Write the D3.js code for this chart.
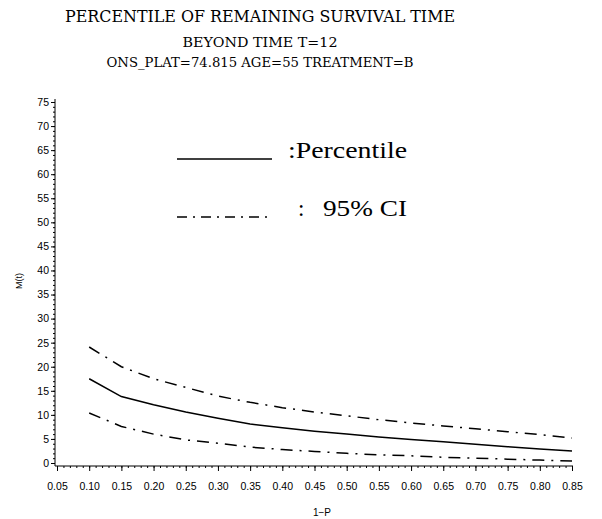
<!DOCTYPE html>
<html>
<head>
<meta charset="utf-8">
<script src="https://cdn.jsdelivr.net/npm/d3@7"></script>
<style>
  body { margin: 0; background: #fff; }
  svg { display: block; }
</style>
</head>
<body>
<script>
// values
var probs = [0.10, 0.15, 0.20, 0.25, 0.30, 0.35, 0.40, 0.45, 0.50, 0.55, 0.60, 0.65, 0.70, 0.75, 0.80, 0.85];
var percentile = [17.5, 13.8, 12.1, 10.6, 9.3, 8.1, 7.3, 6.6, 6.0, 5.4, 4.9, 4.4, 3.9, 3.4, 2.9, 2.5];
var upperCI = [24.1, 20.0, 17.5, 15.7, 13.9, 12.6, 11.5, 10.6, 9.8, 9.0, 8.3, 7.7, 7.1, 6.5, 5.9, 5.2];
var lowerCI = [10.4, 7.6, 6.0, 4.8, 4.1, 3.3, 2.8, 2.4, 2.0, 1.7, 1.5, 1.2, 1.0, 0.8, 0.6, 0.4];
var xTicks = [0.05, 0.10, 0.15, 0.20, 0.25, 0.30, 0.35, 0.40, 0.45, 0.50, 0.55, 0.60, 0.65, 0.70, 0.75, 0.80, 0.85];
var yTicks = [0, 5, 10, 15, 20, 25, 30, 35, 40, 45, 50, 55, 60, 65, 70, 75];
var titleLines = ["PERCENTILE OF REMAINING SURVIVAL TIME", "BEYOND TIME T=12", "ONS_PLAT=74.815 AGE=55 TREATMENT=B"];

var width = 602, height = 519;

var svg = d3.select("body").append("svg")
    .attr("width", width)
    .attr("height", height);

svg.append("rect").attr("width", width).attr("height", height).attr("fill", "#fff");

// set the ranges
var x = d3.scaleLinear().domain([0.05, 0.85]).range([57, 572]);
var y = d3.scaleLinear().domain([0, 75]).range([463, 102]);

var axisY = 466, axisX = 55;

// titles
var titleStyle = [
  {y: 22, size: 16, len: 390},
  {y: 47, size: 12, len: 155},
  {y: 67, size: 12, len: 307}
];
svg.selectAll(".title")
    .data(titleLines)
  .enter().append("text")
    .attr("class", "title")
    .attr("x", 260)
    .attr("y", function(d, i) { return titleStyle[i].y; })
    .attr("text-anchor", "middle")
    .attr("textLength", function(d, i) { return titleStyle[i].len; })
    .attr("lengthAdjust", "spacingAndGlyphs")
    .style("font-family", "'DejaVu Serif', serif")
    .style("font-size", function(d, i) { return titleStyle[i].size + "px"; })
    .text(function(d) { return d; });

// x axis
var xg = svg.append("g")
    .attr("transform", "translate(0," + axisY + ")")
    .call(d3.axisBottom(x).tickValues(xTicks).tickSize(5).tickSizeOuter(0).tickPadding(12)
      .tickFormat(d3.format(".2f")));
xg.select(".domain").remove();
xg.selectAll("text").style("font-family", "'Liberation Sans', Arial, sans-serif").style("font-size", "10.5px");

// minor x ticks
var xMinor = d3.range(5, 86).map(function(d) { return d / 100; });
svg.append("g")
    .attr("transform", "translate(0," + axisY + ")")
    .call(d3.axisBottom(x).tickValues(xMinor).tickSize(2).tickFormat(""))
    .select(".domain").remove();

// y axis
var yg = svg.append("g")
    .attr("transform", "translate(" + axisX + ",0)")
    .call(d3.axisLeft(y).tickValues(yTicks).tickSize(4).tickPadding(2));
yg.select(".domain").remove();
yg.selectAll("text").style("font-family", "'Liberation Sans', Arial, sans-serif").style("font-size", "10.5px");

var yMinor = d3.range(0, 76);
svg.append("g")
    .attr("transform", "translate(" + axisX + ",0)")
    .call(d3.axisLeft(y).tickValues(yMinor).tickSize(2).tickFormat(""))
    .select(".domain").remove();

// axis lines
svg.append("line").attr("x1", axisX).attr("x2", x(0.85) + 1)
    .attr("y1", axisY).attr("y2", axisY).attr("stroke", "#000");
svg.append("line").attr("x1", axisX).attr("x2", axisX)
    .attr("y1", axisY).attr("y2", y(75) - 3).attr("stroke", "#000");

// axis labels
svg.append("text")
    .attr("x", 322)
    .attr("y", 516)
    .attr("text-anchor", "middle")
    .style("font-family", "'Liberation Sans', Arial, sans-serif")
    .style("font-size", "10px")
    .text("1\u2212P");

svg.append("text")
    .attr("transform", "translate(22," + 281 + ") rotate(-90)")
    .attr("text-anchor", "middle")
    .style("font-family", "'Liberation Sans', Arial, sans-serif")
    .style("font-size", "9px")
    .text("M(t)");

// curves
var line = d3.line()
    .x(function(d) { return x(d[0]); })
    .y(function(d) { return y(d[1]); });

function pairs(vals) { return probs.map(function(p, i) { return [p, vals[i]]; }); }

var dashDot = "12,7,2,7";

svg.append("path").datum(pairs(percentile))
    .attr("d", line).attr("fill", "none").attr("stroke", "#000").attr("stroke-width", 1.5);
svg.append("path").datum(pairs(upperCI))
    .attr("d", line).attr("fill", "none").attr("stroke", "#000").attr("stroke-width", 1.5)
    .attr("stroke-dasharray", dashDot);
svg.append("path").datum(pairs(lowerCI))
    .attr("d", line).attr("fill", "none").attr("stroke", "#000").attr("stroke-width", 1.5)
    .attr("stroke-dasharray", dashDot);

// legend
var legendFont = "'Liberation Serif', 'Times New Roman', serif";
svg.append("line")
    .attr("x1", 177).attr("x2", 272).attr("y1", 159).attr("y2", 159)
    .attr("stroke", "#000").attr("stroke-width", 1.5);
svg.append("line")
    .attr("x1", 177).attr("x2", 272).attr("y1", 217).attr("y2", 217)
    .attr("stroke", "#000").attr("stroke-width", 1.5)
    .attr("stroke-dasharray", "10,6,2,6");
svg.append("text")
    .attr("x", 288).attr("y", 158)
    .attr("textLength", 119).attr("lengthAdjust", "spacingAndGlyphs")
    .style("font-family", legendFont).style("font-size", "23px")
    .text(":Percentile");
svg.append("text")
    .attr("x", 298).attr("y", 216)
    .style("font-family", legendFont).style("font-size", "23px")
    .text(":");
svg.append("text")
    .attr("x", 323).attr("y", 216)
    .attr("textLength", 84).attr("lengthAdjust", "spacingAndGlyphs")
    .style("font-family", legendFont).style("font-size", "23px")
    .text("95% CI");
</script>
</body>
</html>
